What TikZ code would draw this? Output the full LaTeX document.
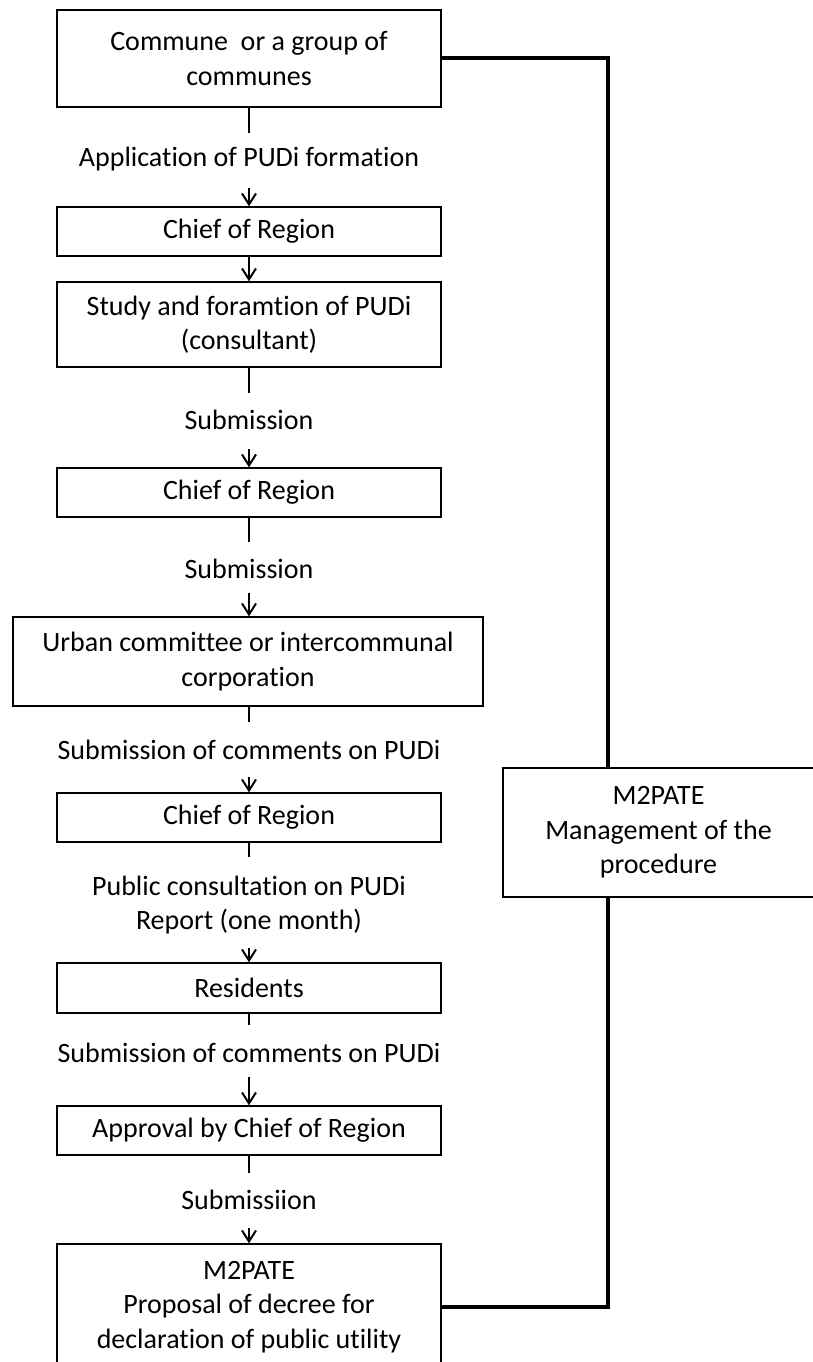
\documentclass[tikz,border=0pt]{standalone}
\usepackage{fontspec}
\setmainfont{Carlito}[Ligatures=NoCommon]
\usetikzlibrary{arrows.meta}
\begin{document}
\begin{tikzpicture}[x=1pt,y=-1pt,
  box/.style={draw=black,line width=1.4pt,fill=white,align=center,inner sep=0pt,
    minimum width=384pt,font=\fontsize{28}{34.5}\selectfont},
  lbl/.style={align=center,inner sep=0pt,font=\fontsize{28}{34.5}\selectfont},
  stub/.style={line width=2.4pt},
  arr/.style={line width=2pt,-{Straight Barb[length=11pt,width=14pt,line width=2pt]}},
  link/.style={line width=4pt}]
\useasboundingbox (0,0) rectangle (813,1362);
% boxes
\node[box,minimum height=97pt] (b1) at (249,58.5) {Commune\ \ or a group of\\communes};
\node[box,minimum height=49pt] (b2) at (249,231.5) {Chief of Region};
\node[box,minimum height=85pt] (b3) at (249,324.5) {Study and foramtion of PUDi\\(consultant)};
\node[box,minimum height=49pt] (b4) at (249,492.5) {Chief of Region};
\node[box,minimum height=89pt,minimum width=470pt] (b5) at (248,661.5) {Urban committee or intercommunal\\corporation};
\node[box,minimum height=49pt] (b6) at (249,817.5) {Chief of Region};
\node[box,minimum height=50pt] (b7) at (249,988) {Residents};
\node[box,minimum height=49pt] (b8) at (249,1130.5) {Approval by Chief of Region};
\node[box,minimum height=126pt] (b9) at (249,1307) {M2PATE\\Proposal of decree for\\declaration of public utility};
% labels
\node[lbl] (l1) at (249,159) {Application of PUDi formation};
\node[lbl] (l2) at (249,420) {Submission};
\node[lbl] (l3) at (249,569) {Submission};
\node[lbl] (l4) at (249,750) {Submission of comments on PUDi};
\node[lbl] (l5) at (249,905) {Public consultation on PUDi\\Report (one month)};
\node[lbl] (l6) at (249,1053) {Submission of comments on PUDi};
\node[lbl] (l7) at (249,1200) {Submissiion};
% stub ends and arrow starts
\coordinate (s1) at (249,133); \coordinate (a1) at (249,188);
\coordinate (s2) at (249,393); \coordinate (a2) at (249,449);
\coordinate (s3) at (249,542); \coordinate (a3) at (249,593);
\coordinate (s4) at (249,722); \coordinate (a4) at (249,777);
\coordinate (s5) at (249,857); \coordinate (a5) at (249,948);
\coordinate (s6) at (249,1025); \coordinate (a6) at (249,1077);
\coordinate (s7) at (249,1173); \coordinate (a7) at (249,1228);
\draw[stub] (b1.south) -- (s1); \draw[arr] (a1) -- (b2.north);
\draw[arr] (b2.south) -- (b3.north);
\draw[stub] (b3.south) -- (s2); \draw[arr] (a2) -- (b4.north);
\draw[stub] (b4.south) -- (s3); \draw[arr] (a3) -- (b5.north -| a3);
\draw[stub] (b5.south -| s4) -- (s4); \draw[arr] (a4) -- (b6.north);
\draw[stub] (b6.south) -- (s5); \draw[arr] (a5) -- (b7.north);
\draw[stub] (b7.south) -- (s6); \draw[arr] (a6) -- (b8.north);
\draw[stub] (b8.south) -- (s7); \draw[arr] (a7) -- (b9.north);
% management link
\coordinate (r) at (608,59);
\node[box,minimum width=311pt,minimum height=129pt] (m) at (658.5,832.5) {M2PATE\\Management of the\\procedure};
\draw[link] (b1.east) -- (b1.east -| r) -- (r |- m.north);
\draw[link] (r |- m.south) -- (r |- b9.east) -- (b9.east);
\end{tikzpicture}
\end{document}
